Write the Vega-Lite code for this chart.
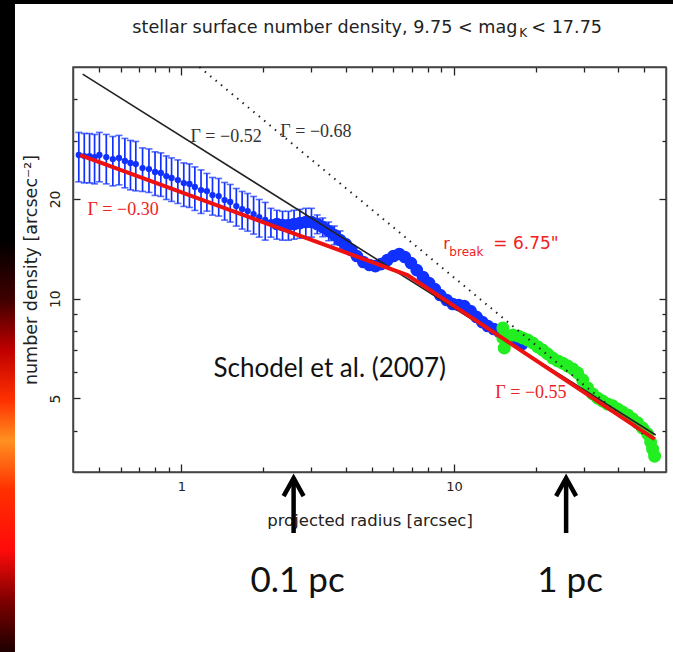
{
"$schema":"https://vega.github.io/schema/vega-lite/v6.json",
"width":593,"height":405,
"autosize":{"type":"none"},
"padding":{"left":73,"top":67,"right":7,"bottom":180},
"background":"white",
"config":{"view":{"stroke":"#444","strokeWidth":1.5},"axis":{"grid":false}},
"datasets":{
"blue":[{"r":0.42,"n":27.13,"lo":22.52,"hi":31.74},{"r":0.44,"n":26.93,"lo":22.35,"hi":31.51},{"r":0.46,"n":26.93,"lo":22.35,"hi":31.51},{"r":0.48,"n":26.75,"lo":22.2,"hi":31.3},{"r":0.5,"n":27.13,"lo":22.52,"hi":31.74},{"r":0.53,"n":26.75,"lo":22.2,"hi":31.3},{"r":0.56,"n":26.38,"lo":21.9,"hi":30.86},{"r":0.59,"n":26.57,"lo":22.05,"hi":31.09},{"r":0.62,"n":26.02,"lo":21.6,"hi":30.44},{"r":0.65,"n":25.66,"lo":21.3,"hi":30.02},{"r":0.68,"n":25.48,"lo":21.15,"hi":29.81},{"r":0.72,"n":24.78,"lo":21.06,"hi":28.5},{"r":0.76,"n":24.61,"lo":20.92,"hi":28.3},{"r":0.8,"n":24.11,"lo":20.49,"hi":27.73},{"r":0.84,"n":23.94,"lo":20.35,"hi":27.53},{"r":0.88,"n":23.44,"lo":19.92,"hi":26.96},{"r":0.92,"n":23.12,"lo":19.65,"hi":26.59},{"r":0.97,"n":22.8,"lo":19.38,"hi":26.22},{"r":1.02,"n":22.33,"lo":18.98,"hi":25.68},{"r":1.07,"n":22.18,"lo":18.85,"hi":25.51},{"r":1.12,"n":21.72,"lo":18.46,"hi":24.98},{"r":1.18,"n":21.27,"lo":18.08,"hi":24.46},{"r":1.24,"n":21.12,"lo":18.37,"hi":23.87},{"r":1.3,"n":20.54,"lo":17.87,"hi":23.21},{"r":1.37,"n":20.4,"lo":17.75,"hi":23.05},{"r":1.44,"n":19.84,"lo":17.26,"hi":22.42},{"r":1.51,"n":19.57,"lo":17.03,"hi":22.11},{"r":1.59,"n":19.03,"lo":16.56,"hi":21.5},{"r":1.67,"n":18.64,"lo":16.22,"hi":21.06},{"r":1.75,"n":18.38,"lo":15.99,"hi":20.77},{"r":1.84,"n":18.0,"lo":15.66,"hi":20.34},{"r":1.93,"n":17.63,"lo":15.34,"hi":19.92},{"r":2.03,"n":17.27,"lo":15.02,"hi":19.52},{"r":2.13,"n":17.03,"lo":15.33,"hi":18.73},{"r":2.24,"n":16.8,"lo":15.12,"hi":18.48},{"r":2.35,"n":16.68,"lo":15.01,"hi":18.35},{"r":2.47,"n":16.68,"lo":15.01,"hi":18.35},{"r":2.59,"n":16.8,"lo":15.12,"hi":18.48},{"r":2.72,"n":16.91,"lo":15.22,"hi":18.6},{"r":2.86,"n":17.03,"lo":15.33,"hi":18.73},{"r":3.0,"n":17.03,"lo":15.33,"hi":18.73},{"r":3.15,"n":16.8,"lo":15.71,"hi":17.89},{"r":3.3,"n":16.45,"lo":15.38,"hi":17.52},{"r":3.47,"n":16.0,"lo":14.96,"hi":17.04},{"r":3.64,"n":15.56,"lo":14.55,"hi":16.57},{"r":3.82,"n":15.03,"lo":14.05,"hi":16.01},{"r":4.0,"n":14.62},{"r":4.2,"n":14.03},{"r":4.4,"n":13.45},{"r":4.65,"n":12.9},{"r":4.9,"n":12.64},{"r":5.15,"n":12.54},{"r":5.4,"n":12.72},{"r":5.7,"n":13.08},{"r":6.0,"n":13.45},{"r":6.3,"n":13.64},{"r":6.6,"n":13.36},{"r":6.95,"n":12.81},{"r":7.3,"n":12.2},{"r":7.7,"n":11.62},{"r":8.1,"n":11.15},{"r":8.5,"n":10.69},{"r":8.9,"n":10.26},{"r":9.4,"n":9.91},{"r":9.9,"n":9.64},{"r":10.4,"n":9.57},{"r":10.9,"n":9.5},{"r":11.5,"n":9.18},{"r":12.1,"n":8.81},{"r":12.7,"n":8.5},{"r":13.3,"n":8.27},{"r":14.0,"n":8.1},{"r":14.7,"n":7.93},{"r":15.4,"n":7.77},{"r":16.2,"n":7.61},{"r":17.0,"n":7.45},{"r":17.8,"n":7.3}],
"green":[{"r":15.12,"n":8.16},{"r":15.12,"n":7.61},{"r":15.3,"n":7.1},{"r":15.77,"n":7.72},{"r":16.45,"n":7.77},{"r":17.16,"n":7.72},{"r":17.89,"n":7.61},{"r":18.67,"n":7.5},{"r":19.47,"n":7.35},{"r":20.31,"n":7.15},{"r":21.18,"n":7.0},{"r":22.1,"n":6.81},{"r":23.05,"n":6.62},{"r":24.04,"n":6.49},{"r":25.07,"n":6.39},{"r":26.16,"n":6.26},{"r":27.29,"n":6.14},{"r":28.46,"n":5.97},{"r":29.69,"n":5.68},{"r":30.96,"n":5.38},{"r":32.3,"n":5.16},{"r":33.69,"n":5.01},{"r":35.14,"n":4.91},{"r":36.65,"n":4.81},{"r":38.23,"n":4.75},{"r":39.87,"n":4.65},{"r":41.59,"n":4.55},{"r":43.4,"n":4.46},{"r":45.26,"n":4.34},{"r":47.21,"n":4.22},{"r":49.24,"n":4.07},{"r":51.36,"n":3.91},{"r":52.68,"n":3.7},{"r":53.58,"n":3.52},{"r":54.49,"n":3.35}],
"fit":[{"r":0.425,"n":27.1},{"r":6.75,"n":11.78},{"r":54.5,"n":3.77}],
"g052":[{"r":0.434,"n":47.6},{"r":55,"n":3.88}],
"g068":[{"r":1.164,"n":50},{"r":50,"n":3.88}],
"scales":[{"label":"0.1 pc","r":2.58},{"label":"1 pc","r":25.8}]
},
"resolve":{"axis":{"x":"independent","y":"independent"}},
"layer":[
{"data":{"values":[{}]},"mark":{"type":"rect","color":{"gradient":"linear","x1":0,"y1":0,"x2":0,"y2":1,"stops":[{"offset":0,"color":"#000000"},{"offset":0.393,"color":"#000000"},{"offset":0.479,"color":"#400000"},{"offset":0.551,"color":"#c00000"},{"offset":0.623,"color":"#ff3000"},{"offset":0.681,"color":"#ff9020"},{"offset":0.752,"color":"#ff3000"},{"offset":0.839,"color":"#ff0a0a"},{"offset":0.911,"color":"#800000"},{"offset":0.983,"color":"#200000"},{"offset":1,"color":"#100000"}]}},
 "encoding":{"x":{"datum":0.2,"type":"quantitative","scale":{"type":"log","domain":[0.4,60],"nice":false},"axis":null},"x2":{"datum":0.245},"y":{"datum":100,"type":"quantitative","scale":{"type":"log","domain":[3,50],"nice":false},"axis":null},"y2":{"datum":0.8}}},
{"data":{"values":[{}]},"mark":{"type":"rect","color":"#000000"},
 "encoding":{"x":{"datum":0.2,"type":"quantitative","scale":{"type":"log","domain":[0.4,60],"nice":false},"axis":null},"x2":{"datum":100},"y":{"datum":100,"type":"quantitative","scale":{"type":"log","domain":[3,50],"nice":false},"axis":null},"y2":{"datum":77.4}}},
{"data":{"name":"blue"},"transform":[{"filter":"datum.lo != null"}],"mark":{"type":"rule","color":"#1030ff","strokeWidth":1.7},
 "encoding":{
  "x":{"field":"r","type":"quantitative","scale":{"type":"log","domain":[0.4,60],"nice":false},
   "axis":{"orient":"bottom","values":[0.5,0.6,0.7,0.8,0.9,1,2,3,4,5,6,7,8,9,10,20,30,40,50],"labelExpr":"datum.value == 1 || datum.value == 10 ? datum.label : ''","tickSize":{"condition":{"test":"datum.value == 1 || datum.value == 10","value":-8},"value":-5},"tickColor":"#222","tickWidth":1.3,"domainColor":"#444","domainWidth":1.5,"labelFont":"DejaVu Sans","labelFontSize":13,"labelColor":"#222","labelPadding":16,"labelBaseline":"top","labelFlush":false,"labelOverlap":false,"title":"projected radius [arcsec]","titleFont":"DejaVu Sans","titleFontSize":16.5,"titleFontWeight":"normal","titleColor":"#222","titlePadding":16}},
  "y":{"field":"lo","type":"quantitative","scale":{"type":"log","domain":[3,50],"nice":false},
   "axis":{"orient":"left","values":[4,5,6,7,8,9,10,20,30,40],"labelExpr":"datum.value == 5 || datum.value == 10 || datum.value == 20 ? datum.label : ''","tickSize":{"condition":{"test":"datum.value == 5 || datum.value == 10 || datum.value == 20","value":-7},"value":-4},"tickColor":"#222","tickWidth":1.3,"domainColor":"#444","domainWidth":1.5,"labelFont":"DejaVu Sans","labelFontSize":14,"labelColor":"#222","labelAngle":270,"labelAlign":"center","labelBaseline":"bottom","labelPadding":18,"labelFlush":false,"labelOverlap":false,"title":"number density [arcsec⁻²]","titleFont":"DejaVu Sans","titleFontSize":17.5,"titleFontWeight":"normal","titleColor":"#222","titlePadding":5}},
  "y2":{"field":"hi"}}},
{"data":{"name":"blue"},"transform":[{"filter":"datum.lo != null"}],"mark":{"type":"tick","orient":"horizontal","color":"#1030ff","size":7,"thickness":1.6},
 "encoding":{"x":{"field":"r","type":"quantitative","scale":{"type":"log","domain":[0.4,60],"nice":false},"axis":null},"y":{"field":"lo","type":"quantitative","scale":{"type":"log","domain":[3,50],"nice":false},"axis":null}}},
{"data":{"name":"blue"},"transform":[{"filter":"datum.hi != null"}],"mark":{"type":"tick","orient":"horizontal","color":"#1030ff","size":7,"thickness":1.6},
 "encoding":{"x":{"field":"r","type":"quantitative","scale":{"type":"log","domain":[0.4,60],"nice":false},"axis":null},"y":{"field":"hi","type":"quantitative","scale":{"type":"log","domain":[3,50],"nice":false},"axis":null}}},
{"data":{"name":"blue"},"transform":[{"filter":"datum.r < 2.2"}],"mark":{"type":"point","filled":true,"color":"#1030ff","size":40,"opacity":1},
 "encoding":{"x":{"field":"r","type":"quantitative","scale":{"type":"log","domain":[0.4,60],"nice":false},"axis":null},"y":{"field":"n","type":"quantitative","scale":{"type":"log","domain":[3,50],"nice":false},"axis":null}}},
{"data":{"name":"blue"},"transform":[{"filter":"datum.r >= 2.2"}],"mark":{"type":"point","filled":true,"color":"#1030ff","size":160,"opacity":1},
 "encoding":{"x":{"field":"r","type":"quantitative","scale":{"type":"log","domain":[0.4,60],"nice":false},"axis":null},"y":{"field":"n","type":"quantitative","scale":{"type":"log","domain":[3,50],"nice":false},"axis":null}}},
{"data":{"name":"green"},"mark":{"type":"point","filled":true,"color":"#22ee22","size":170,"opacity":1},
 "encoding":{
  "x":{"field":"r","type":"quantitative","scale":{"type":"log","domain":[0.4,60],"nice":false},
   "axis":{"orient":"top","values":[0.5,0.6,0.7,0.8,0.9,1,2,3,4,5,6,7,8,9,10,20,30,40,50],"labels":false,"tickSize":{"condition":{"test":"datum.value == 1 || datum.value == 10","value":-8},"value":-5},"tickColor":"#222","tickWidth":1.3,"domainColor":"#444","domainWidth":1.5,"title":null}},
  "y":{"field":"n","type":"quantitative","scale":{"type":"log","domain":[3,50],"nice":false},
   "axis":{"orient":"right","values":[4,5,6,7,8,9,10,20,30,40],"labels":false,"tickSize":{"condition":{"test":"datum.value == 5 || datum.value == 10 || datum.value == 20","value":-7},"value":-4},"tickColor":"#222","tickWidth":1.3,"domainColor":"#444","domainWidth":1.5,"title":null}}}},
{"data":{"name":"g052"},"mark":{"type":"line","color":"#222","strokeWidth":1.6},
 "encoding":{"x":{"field":"r","type":"quantitative","scale":{"type":"log","domain":[0.4,60],"nice":false},"axis":null},"y":{"field":"n","type":"quantitative","scale":{"type":"log","domain":[3,50],"nice":false},"axis":null}}},
{"data":{"name":"g068"},"mark":{"type":"line","color":"#222","strokeWidth":2,"strokeDash":[1.5,5.5]},
 "encoding":{"x":{"field":"r","type":"quantitative","scale":{"type":"log","domain":[0.4,60],"nice":false},"axis":null},"y":{"field":"n","type":"quantitative","scale":{"type":"log","domain":[3,50],"nice":false},"axis":null}}},
{"data":{"name":"fit"},"mark":{"type":"line","color":"#ee1111","strokeWidth":4},
 "encoding":{"x":{"field":"r","type":"quantitative","scale":{"type":"log","domain":[0.4,60],"nice":false},"axis":null},"y":{"field":"n","type":"quantitative","scale":{"type":"log","domain":[3,50],"nice":false},"axis":null}}},
{"data":{"values":[{}]},"mark":{"type":"text","text":"Γ = −0.52","font":"Liberation Serif","fontSize":18,"color":"#333","align":"left","baseline":"middle"},
 "encoding":{"x":{"datum":1.079,"type":"quantitative","axis":null},"y":{"datum":30.74,"type":"quantitative","axis":null}}},
{"data":{"values":[{}]},"mark":{"type":"text","text":"Γ = −0.68","font":"Liberation Serif","fontSize":18,"color":"#333","align":"left","baseline":"middle"},
 "encoding":{"x":{"datum":2.307,"type":"quantitative","axis":null},"y":{"datum":31.8,"type":"quantitative","axis":null}}},
{"data":{"values":[{}]},"mark":{"type":"text","text":"Γ = −0.30","font":"Liberation Serif","fontSize":18,"color":"#ee2222","align":"left","baseline":"middle"},
 "encoding":{"x":{"datum":0.452,"type":"quantitative","axis":null},"y":{"datum":18.5,"type":"quantitative","axis":null}}},
{"data":{"values":[{}]},"mark":{"type":"text","text":"Γ = −0.55","font":"Liberation Serif","fontSize":18,"color":"#ee2222","align":"left","baseline":"middle"},
 "encoding":{"x":{"datum":14.19,"type":"quantitative","axis":null},"y":{"datum":5.19,"type":"quantitative","axis":null}}},
{"data":{"values":[{}]},"mark":{"type":"text","text":"r","font":"DejaVu Sans","fontSize":16,"color":"#ee2222","align":"left","baseline":"alphabetic"},
 "encoding":{"x":{"datum":9.14,"type":"quantitative","axis":null},"y":{"datum":14.12,"type":"quantitative","axis":null}}},
{"data":{"values":[{}]},"mark":{"type":"text","text":"break","font":"DejaVu Sans","fontSize":12,"color":"#ee2222","align":"left","baseline":"alphabetic"},
 "encoding":{"x":{"datum":9.62,"type":"quantitative","axis":null},"y":{"datum":13.45,"type":"quantitative","axis":null}}},
{"data":{"values":[{}]},"mark":{"type":"text","text":"=  6.75\"","font":"DejaVu Sans","fontSize":17,"color":"#ee2222","align":"left","baseline":"alphabetic"},
 "encoding":{"x":{"datum":13.95,"type":"quantitative","axis":null},"y":{"datum":14.12,"type":"quantitative","axis":null}}},
{"data":{"values":[{}]},"mark":{"type":"text","text":"Schodel  et al. (2007)","font":"Lato","fontSize":26,"color":"#111","align":"center","baseline":"alphabetic"},
 "encoding":{"x":{"datum":3.5,"type":"quantitative","axis":null},"y":{"datum":5.8,"type":"quantitative","axis":null}}},
{"data":{"values":[{}]},"mark":{"type":"text","text":"stellar surface number density, 9.75 < mag","font":"DejaVu Sans","fontSize":17.6,"color":"#222","align":"right","baseline":"alphabetic"},
 "encoding":{"x":{"datum":17.09,"type":"quantitative","axis":null},"y":{"datum":63.3,"type":"quantitative","axis":null}}},
{"data":{"values":[{}]},"mark":{"type":"text","text":"K","font":"DejaVu Sans","fontSize":12,"color":"#222","align":"left","baseline":"alphabetic"},
 "encoding":{"x":{"datum":17.38,"type":"quantitative","axis":null},"y":{"datum":61.4,"type":"quantitative","axis":null}}},
{"data":{"values":[{}]},"mark":{"type":"text","text":"< 17.75","font":"DejaVu Sans","fontSize":17.6,"color":"#222","align":"left","baseline":"alphabetic"},
 "encoding":{"x":{"datum":19.23,"type":"quantitative","axis":null},"y":{"datum":63.3,"type":"quantitative","axis":null}}},
{"data":{"name":"scales"},"mark":{"type":"rule","color":"black","strokeWidth":4.5},
 "encoding":{"x":{"field":"r","type":"quantitative","axis":null},"y":{"datum":1.964,"type":"quantitative","axis":null},"y2":{"datum":2.85}}},
{"data":{"name":"scales"},"mark":{"type":"point","shape":"M-1,1.8L0,0L1,1.8","filled":false,"size":400,"strokeWidth":4.5,"color":"black","opacity":1,"strokeJoin":"miter"},
 "encoding":{"x":{"field":"r","type":"quantitative","axis":null},"y":{"datum":2.876,"type":"quantitative","axis":null}}},
{"data":{"name":"scales"},"mark":{"type":"text","font":"Lato","fontSize":35,"color":"#111","align":"center","baseline":"alphabetic","dx":4},
 "encoding":{"x":{"field":"r","type":"quantitative","axis":null},"y":{"datum":1.3,"type":"quantitative","axis":null},"text":{"field":"label"}}}
]
}
